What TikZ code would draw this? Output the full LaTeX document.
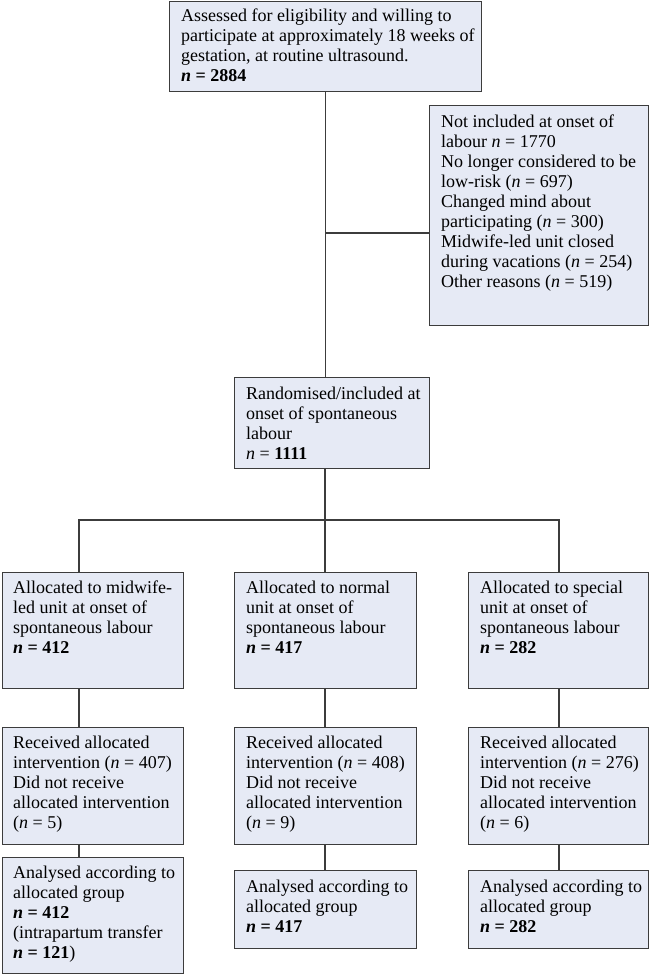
\documentclass[tikz,border=0pt]{standalone}
\usepackage{fontspec}
\setmainfont{Liberation Serif}
\definecolor{boxfill}{HTML}{E6EAF5}
\definecolor{boxline}{HTML}{3C3C3C}
\newcommand{\boxtext}[1]{\begin{tabular}[t]{@{}l@{}}#1\end{tabular}}
\begin{document}
\begin{tikzpicture}[x=1pt,y=-1pt,
  boxst/.style={draw=boxline, fill=boxfill, line width=1.3pt, rectangle, inner sep=0pt, anchor=north west},
  txt/.style={anchor=base west, inner sep=0pt, font=\fontsize{18}{20}\selectfont},
  conn/.style={draw=boxline, line width=1.2pt}]
\useasboundingbox (0,0) rectangle (650,974);
% boxes
\node[boxst, minimum width=312pt, minimum height=90pt] (top) at (169,1) {};
\node[boxst, minimum width=219pt, minimum height=220pt] (excl) at (429,105) {};
\node[boxst, minimum width=195pt, minimum height=91pt] (rand) at (234,377) {};
\node[boxst, minimum width=181pt, minimum height=116pt] (a1) at (2,572) {};
\node[boxst, minimum width=182pt, minimum height=116pt] (b1) at (234,572) {};
\node[boxst, minimum width=180pt, minimum height=116pt] (c1) at (468,572) {};
\node[boxst, minimum width=181pt, minimum height=117pt] (a2) at (2,727) {};
\node[boxst, minimum width=182pt, minimum height=117pt] (b2) at (234,727) {};
\node[boxst, minimum width=180pt, minimum height=117pt] (c2) at (468,727) {};
\node[boxst, minimum width=181pt, minimum height=116pt] (a3) at (2,857) {};
\node[boxst, minimum width=182pt, minimum height=78pt] (b3) at (234,870) {};
\node[boxst, minimum width=180pt, minimum height=78pt] (c3) at (468,870) {};
% texts
\node[txt] (ttop) at ([xshift=12pt,yshift=-21pt]top.north west) {\boxtext{Assessed for eligibility and willing to\\participate at approximately 18 weeks of\\gestation, at routine ultrasound.\\\textbf{\textit{n} = 2884}}};
\node[txt] (texcl) at ([xshift=12pt,yshift=-22pt]excl.north west) {\boxtext{Not included at onset of\\labour \textit{n} = 1770\\No longer considered to be\\low-risk (\textit{n} = 697)\\Changed mind about\\participating (\textit{n} = 300)\\Midwife-led unit closed\\during vacations (\textit{n} = 254)\\Other reasons (\textit{n} = 519)}};
\node[txt] (trand) at ([xshift=12pt,yshift=-22pt]rand.north west) {\boxtext{Randomised/included at\\onset of spontaneous\\labour\\\textit{n} = \textbf{1111}}};
\node[txt] (ta1) at ([xshift=11pt,yshift=-21pt]a1.north west) {\boxtext{Allocated to midwife-\\led unit at onset of\\spontaneous labour\\\textbf{\textit{n} = 412}}};
\node[txt] (tb1) at ([xshift=12pt,yshift=-21pt]b1.north west) {\boxtext{Allocated to normal\\unit at onset of\\spontaneous labour\\\textbf{\textit{n} = 417}}};
\node[txt] (tc1) at ([xshift=12pt,yshift=-21pt]c1.north west) {\boxtext{Allocated to special\\unit at onset of\\spontaneous labour\\\textbf{\textit{n} = 282}}};
\node[txt] (ta2) at ([xshift=11pt,yshift=-21pt]a2.north west) {\boxtext{Received allocated\\intervention (\textit{n} = 407)\\Did not receive\\allocated intervention\\(\textit{n} = 5)}};
\node[txt] (tb2) at ([xshift=12pt,yshift=-21pt]b2.north west) {\boxtext{Received allocated\\intervention (\textit{n} = 408)\\Did not receive\\allocated intervention\\(\textit{n} = 9)}};
\node[txt] (tc2) at ([xshift=12pt,yshift=-21pt]c2.north west) {\boxtext{Received allocated\\intervention (\textit{n} = 276)\\Did not receive\\allocated intervention\\(\textit{n} = 6)}};
\node[txt] (ta3) at ([xshift=11pt,yshift=-21pt]a3.north west) {\boxtext{Analysed according to\\allocated group\\\textbf{\textit{n} = 412}\\(intrapartum transfer\\\textbf{\textit{n} = 121})}};
\node[txt] (tb3) at ([xshift=12pt,yshift=-22pt]b3.north west) {\boxtext{Analysed according to\\allocated group\\\textbf{\textit{n} = 417}}};
\node[txt] (tc3) at ([xshift=12pt,yshift=-22pt]c3.north west) {\boxtext{Analysed according to\\allocated group\\\textbf{\textit{n} = 282}}};
% connectors
\coordinate (j1) at (325,233);
\coordinate (j2) at (325,520);
\coordinate (hl) at (79,520);
\coordinate (hr) at (559,520);
\draw[conn] (top.south) -- (top.south |- rand.north);
\draw[conn] (j1) -- (j1 -| excl.west);
\draw[conn] (j2 |- rand.south) -- (j2) -- (j2 |- b1.north);
\draw[conn] (hl |- a1.north) -- (hl) -- (hr) -- (hr |- c1.north);
\draw[conn] (hl |- a1.south) -- (hl |- a2.north);
\draw[conn] (j2 |- b1.south) -- (j2 |- b2.north);
\draw[conn] (hr |- c1.south) -- (hr |- c2.north);
\draw[conn] (hl |- a2.south) -- (hl |- a3.north);
\draw[conn] (j2 |- b2.south) -- (j2 |- b3.north);
\draw[conn] (hr |- c2.south) -- (hr |- c3.north);
\end{tikzpicture}
\end{document}
